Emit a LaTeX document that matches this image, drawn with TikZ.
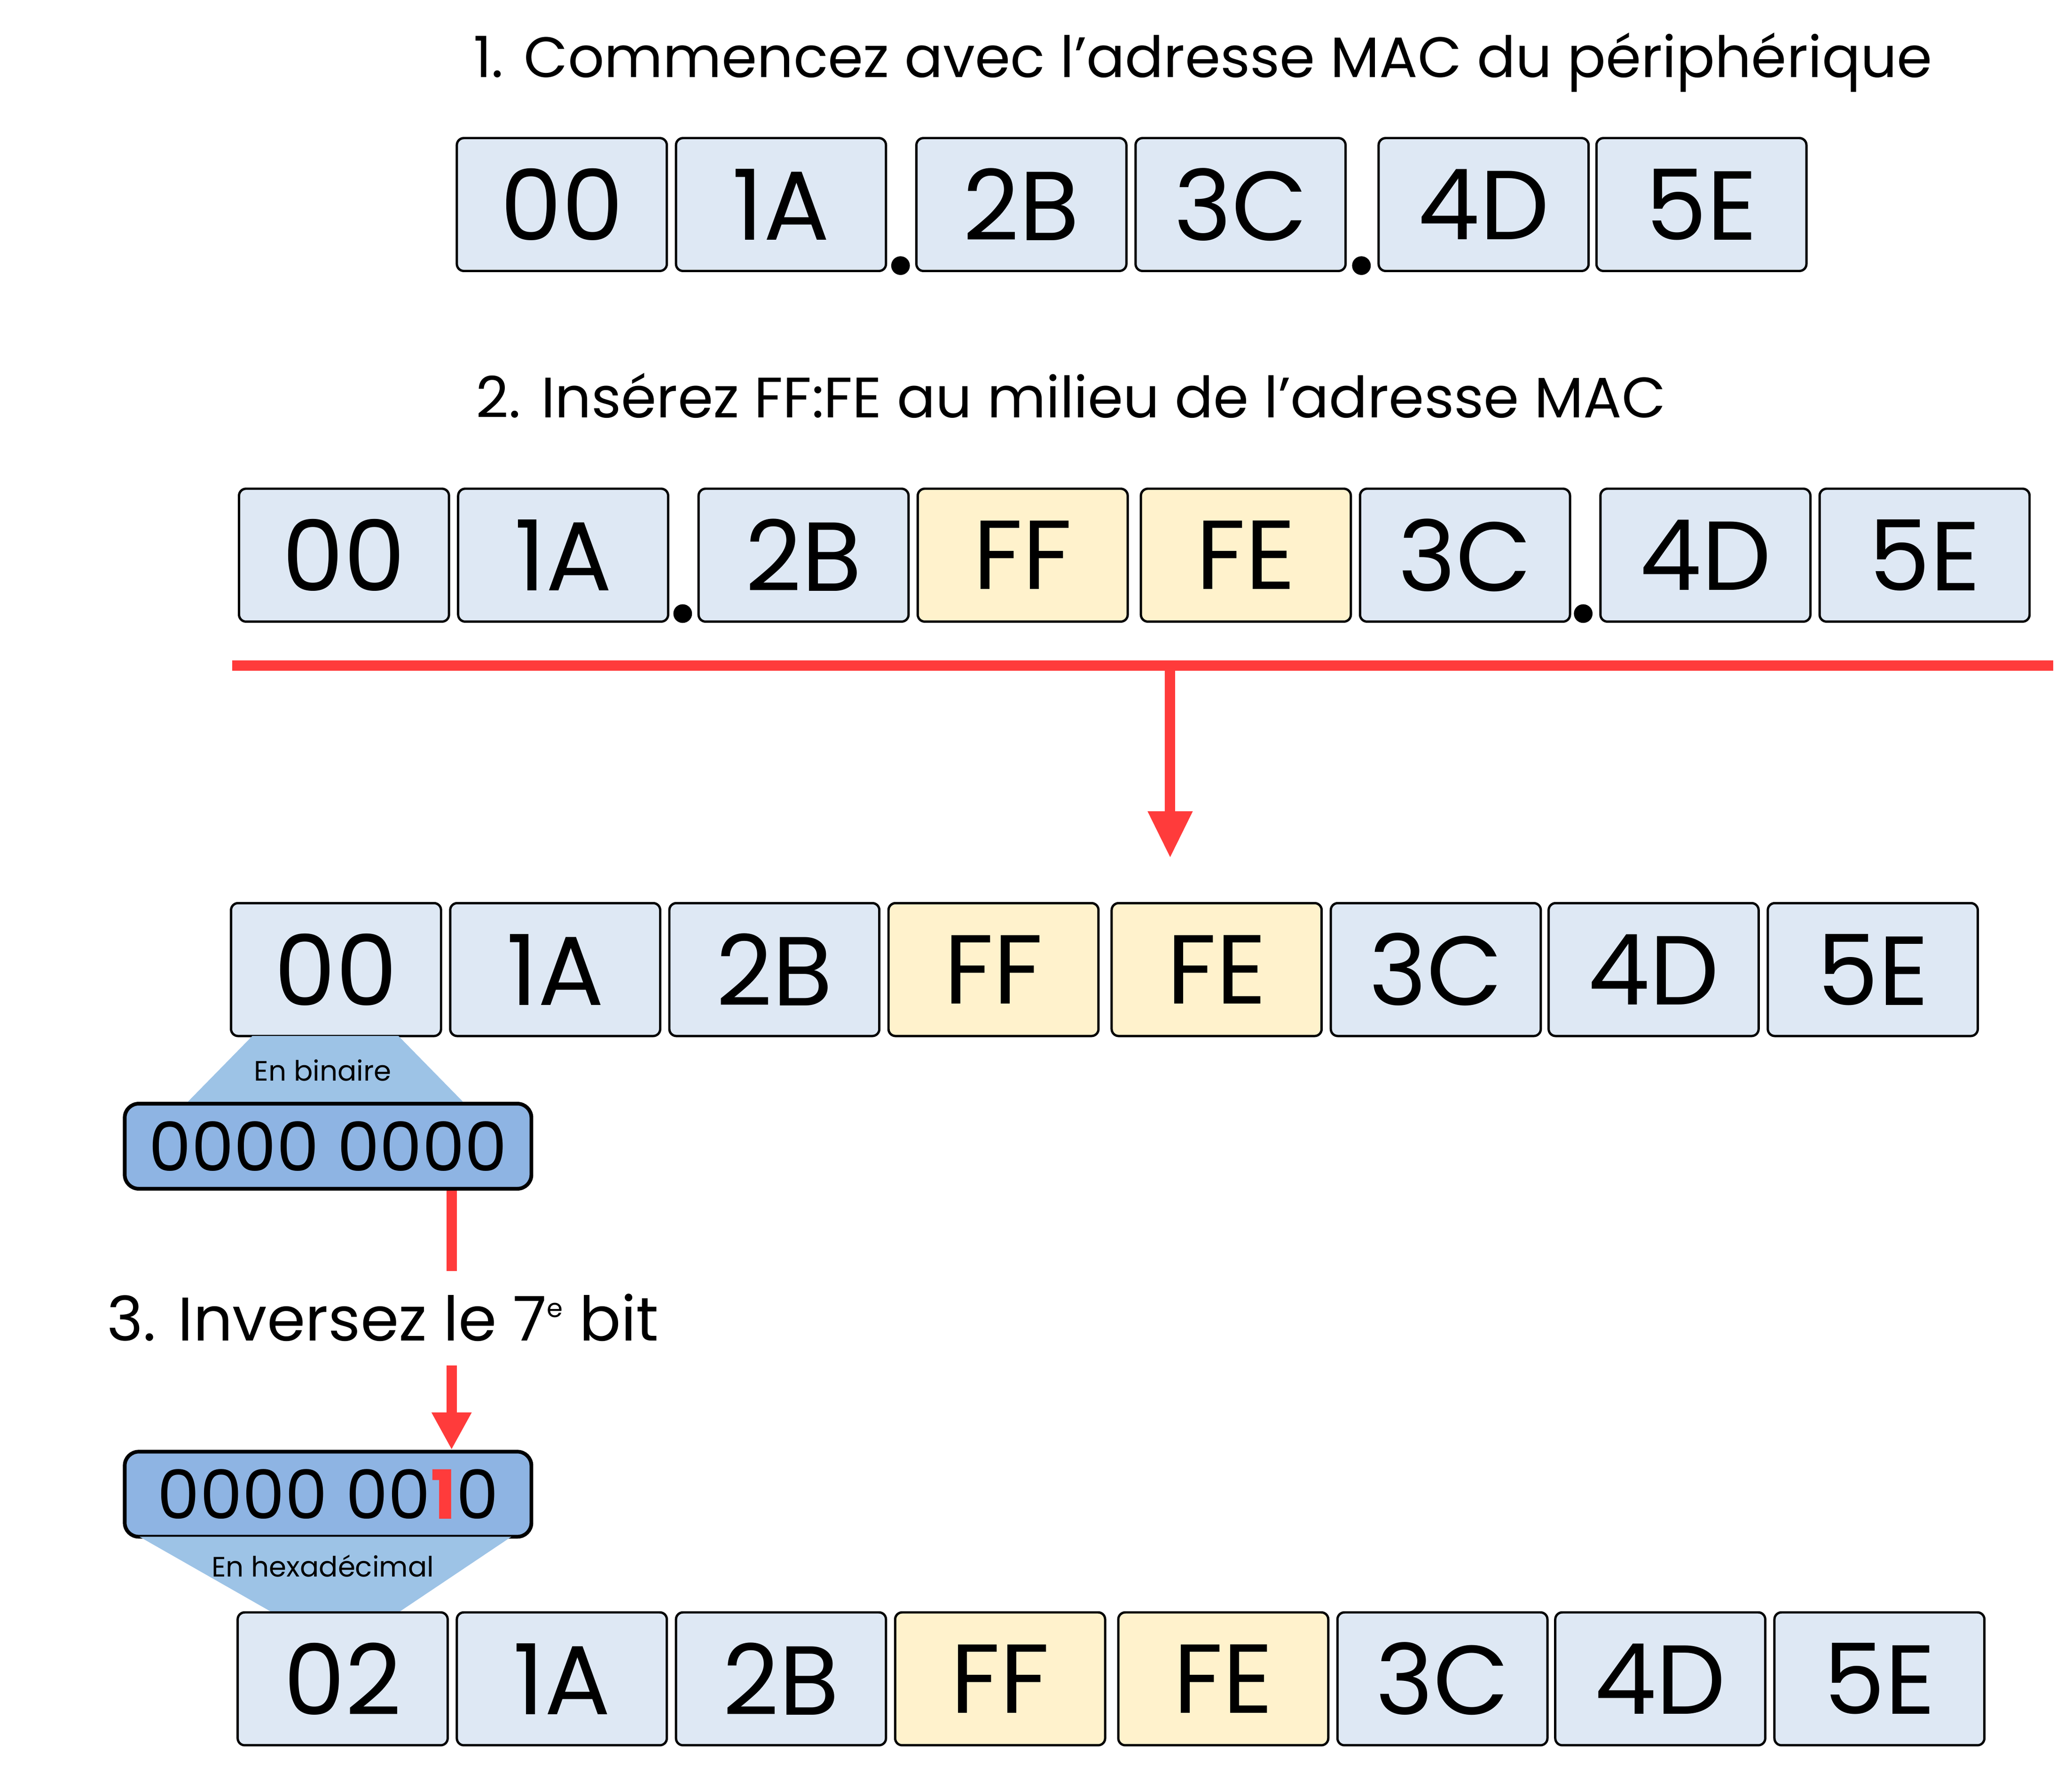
\documentclass[tikz,border=0pt]{standalone}
\usepackage{fontspec}
\setmainfont{Poppins}
\usetikzlibrary{calc, positioning, arrows.meta}

\definecolor{cellblue}{HTML}{DEE8F4}
\definecolor{cellyellow}{HTML}{FFF2CC}
\definecolor{binblue}{HTML}{8EB4E3}
\definecolor{trapblue}{HTML}{9DC3E6}
\definecolor{arrowred}{HTML}{FF3B3B}

\tikzset{
    cell/.style={draw=black, fill=cellblue, rounded corners=1.5pt, line width=0.5pt,
        minimum width=1.58cm, minimum height=1.0cm, inner sep=0pt,
        font=\fontsize{21}{21}\selectfont},
    ffcell/.style={cell, fill=cellyellow},
    binbox/.style={draw=black, fill=binblue, rounded corners=3pt, line width=0.8pt,
        minimum width=3.06cm, minimum height=0.64cm, inner sep=0pt,
        font=\fontsize{14.5}{14.5}\selectfont},
    title/.style={anchor=west, font=\fontsize{12.2}{12.2}\selectfont},
    small/.style={font=\fontsize{6}{6}\selectfont},
    redline/.style={draw=arrowred, line width=2.2pt},
    dot/.style={circle, fill=black, inner sep=0pt, minimum size=4pt},
}

\begin{document}
\begin{tikzpicture}[x=0.01cm, y=-0.01cm]
        \useasboundingbox (0,0) rectangle (1560,1340.6);

        % step 1
        \node[title] (t1) at (344,47) {1. Commencez avec l’adresse MAC du périphérique};
        \foreach \x/\t/\s [count=\i] in {423/00/cell, 588/1A/cell, 769/2B/cell,
                934/3C/cell, 1117/4D/cell, 1281/5E/cell}
            \node[\s] (a\i) at (\x,154) {\t};
        \node[dot] (ad1) at (678,200) {};
        \node[dot] (ad2) at (1025,200) {};

        % step 2
        \node[title] (t2) at (346,298) {2. Insérez FF:FE au milieu de l’adresse MAC};
        \foreach \x/\t/\s [count=\i] in {259/00/cell, 424/1A/cell, 605/2B/cell,
                770/FF/ffcell, 938/FE/ffcell, 1103/3C/cell, 1284/4D/cell, 1449/5E/cell}
            \node[\s] (b\i) at (\x,418) {\t};
        \node[dot] (bd1) at (514,462) {};
        \node[dot] (bd2) at (1192,462) {};

        \coordinate (L) at (175,501);
        \coordinate (R) at (1546,501);
        \coordinate (M) at (881,501);
        \coordinate (Mt) at (881,646);
        \draw[redline] (L) -- (R);
        \draw[redline, -{Triangle[length=10pt, width=9pt]}] (M) -- (Mt);

        % step 3
        \foreach \x/\t/\s [count=\i] in {253/00/cell, 418/1A/cell, 583/2B/cell,
                748/FF/ffcell, 916/FE/ffcell, 1081/3C/cell, 1245/4D/cell, 1410/5E/cell}
            \node[\s] (c\i) at (\x,730) {\t};

        \fill[trapblue] (190,780) -- (300,780) -- (350,831) -- (140,831) -- cycle;
        \node[small] (lb) at (243,806) {En binaire};
        \node[binbox] (bin1) at (247,863) {0000 0000};

        \coordinate (s1) at (340,957);
        \draw[redline] (bin1.south -| s1) -- (s1);
        \node[title, font=\fontsize{13.2}{13.2}\selectfont] (t3) at (68,992)
            {3. Inversez le 7\raisebox{0.7ex}{\fontsize{5.5}{5.5}\selectfont e} bit};
        \coordinate (s2) at (340,1028);
        \node[binbox] (bin2) at (247,1125)
            {0000 00\textcolor{arrowred}{\textbf{1}}0};
        \draw[redline, -{Triangle[length=8pt, width=8pt]}] (s2) -- (bin2.north -| s2);

        \fill[trapblue] (105,1157) -- (385,1157) -- (300,1214) -- (205,1214) -- cycle;
        \node[small] (lh) at (243,1179) {En hexadécimal};

        \foreach \x/\t/\s [count=\i] in {258/02/cell, 423/1A/cell, 588/2B/cell,
                753/FF/ffcell, 921/FE/ffcell, 1086/3C/cell, 1250/4D/cell, 1415/5E/cell}
            \node[\s] (d\i) at (\x,1264) {\t};
    \end{tikzpicture}
\end{document}
